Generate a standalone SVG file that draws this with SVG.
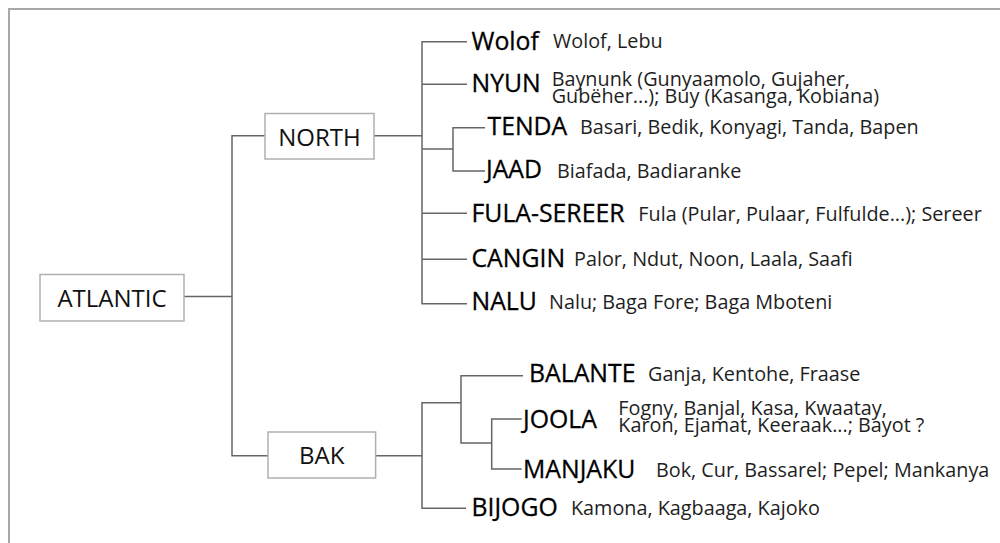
<svg xmlns="http://www.w3.org/2000/svg" width="1000" height="543" viewBox="0 0 1000 543">
  <style>
    .frame { stroke: #a8a8a8; stroke-width: 2; fill: none; }
    .box { fill: #ffffff; stroke: #b0b0b0; stroke-width: 1.5; }
    .conn { stroke: #666666; stroke-width: 1.5; fill: none; }
    .lbl { font-family: "Open Sans", "Noto Sans", sans-serif; font-size: 24.8px; fill: #000000; stroke: #000000; stroke-width: 0.3; }
    .boxlbl { font-family: "Open Sans", "Noto Sans", sans-serif; font-size: 24px; fill: #111111; text-anchor: middle; }
    .desc { font-family: "Open Sans", "Noto Sans", sans-serif; font-size: 19.8px; fill: #1e1e1e; }
  </style>
  <rect width="1000" height="543" fill="#ffffff"/>
  <path class="frame" d="M9,543 V9 H1000"/>

  <g id="connectors">
    <path class="conn" d="M184,296.5 H232"/>
    <path class="conn" d="M265,135.7 H232 V455.7 H268"/>
    <path class="conn" d="M374,135.7 H422"/>
    <path class="conn" d="M467,41.7 H422 V303.7 H467"/>
    <path class="conn" d="M422,84.3 H467"/>
    <path class="conn" d="M422,149 H453"/>
    <path class="conn" d="M485,127.7 H453 V171 H485"/>
    <path class="conn" d="M422,213.3 H467"/>
    <path class="conn" d="M422,259.3 H467"/>
    <path class="conn" d="M375.6,455.7 H422"/>
    <path class="conn" d="M461,402.7 H422 V508.3 H466"/>
    <path class="conn" d="M523,375.7 H461 V443 H491.7"/>
    <path class="conn" d="M521.7,419 H491.7 V469 H521.7"/>
  </g>

  <g id="atlantic">
    <rect class="box" x="40" y="274.5" width="144" height="46.5"/>
    <text class="boxlbl" x="112" y="306.5">ATLANTIC</text>
  </g>
  <g id="north">
    <rect class="box" x="265" y="113.5" width="109" height="45.5"/>
    <text class="boxlbl" x="319.5" y="145.7">NORTH</text>
  </g>
  <g id="bak">
    <rect class="box" x="268" y="432" width="107.6" height="46"/>
    <text class="boxlbl" x="321.8" y="463.5">BAK</text>
  </g>

  <g id="wolof">
    <text class="lbl" x="471.5" y="49.5">Wolof</text>
    <text class="desc" x="553" y="48">Wolof, Lebu</text>
  </g>
  <g id="nyun">
    <text class="lbl" x="471.5" y="91.7">NYUN</text>
    <text class="desc" x="551.7" y="86">Baynunk (Gunyaamolo, Gujaher,</text>
    <text class="desc" x="551.7" y="103.2">Gubëher...); Buy (Kasanga, Kobiana)</text>
  </g>
  <g id="tenda">
    <text class="lbl" x="487.5" y="135">TENDA</text>
    <text class="desc" x="580" y="134">Basari, Bedik, Konyagi, Tanda, Bapen</text>
  </g>
  <g id="jaad">
    <text class="lbl" x="486" y="178.3">JAAD</text>
    <text class="desc" x="557" y="177.5">Biafada, Badiaranke</text>
  </g>
  <g id="fula-sereer">
    <text class="lbl" x="471.5" y="221.7">FULA-SEREER</text>
    <text class="desc" x="638.3" y="220.5">Fula (Pular, Pulaar, Fulfulde...); Sereer</text>
  </g>
  <g id="cangin">
    <text class="lbl" x="471.5" y="266.7">CANGIN</text>
    <text class="desc" x="574" y="265.5">Palor, Ndut, Noon, Laala, Saafi</text>
  </g>
  <g id="nalu">
    <text class="lbl" x="471.5" y="310">NALU</text>
    <text class="desc" x="549" y="309">Nalu; Baga Fore; Baga Mboteni</text>
  </g>
  <g id="balante">
    <text class="lbl" x="529" y="382">BALANTE</text>
    <text class="desc" x="648" y="381">Ganja, Kentohe, Fraase</text>
  </g>
  <g id="joola">
    <text class="lbl" x="523" y="427.7">JOOLA</text>
    <text class="desc" x="618.3" y="414.5">Fogny, Banjal, Kasa, Kwaatay,</text>
    <text class="desc" x="618.3" y="431.7">Karon, Ejamat, Keeraak...; Bayot ?</text>
  </g>
  <g id="manjaku">
    <text class="lbl" x="523" y="477.5">MANJAKU</text>
    <text class="desc" x="656" y="477">Bok, Cur, Bassarel; Pepel; Mankanya</text>
  </g>
  <g id="bijogo">
    <text class="lbl" x="471.5" y="516">BIJOGO</text>
    <text class="desc" x="571" y="515">Kamona, Kagbaaga, Kajoko</text>
  </g>
</svg>
